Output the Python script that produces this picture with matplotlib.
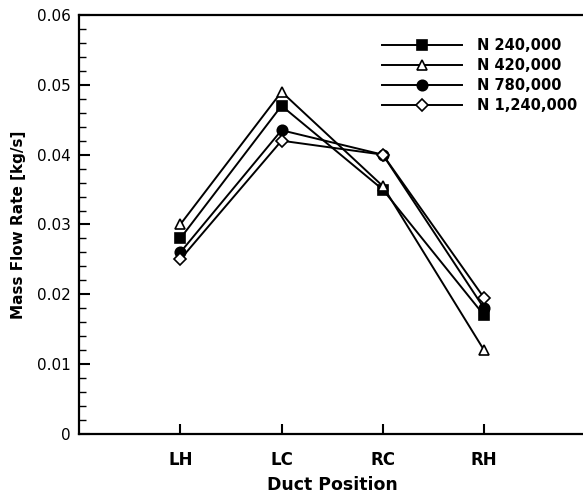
import matplotlib
matplotlib.use("Agg")
import matplotlib.pyplot as plt
from matplotlib.ticker import MultipleLocator, FixedLocator

plt.rcParams['font.family'] = ['DejaVu Sans']

positions = ["LH", "LC", "RC", "RH"]
series_labels = ["N 240,000", "N 420,000", "N 780,000", "N 1,240,000"]
flow_240k = [0.028, 0.047, 0.035, 0.017]
flow_420k = [0.030, 0.049, 0.0355, 0.012]
flow_780k = [0.026, 0.0435, 0.040, 0.018]
flow_1240k = [0.025, 0.042, 0.040, 0.0195]
y_ticks = [0.0, 0.01, 0.02, 0.03, 0.04, 0.05, 0.06]
y_tick_labels = ["0", "0.01", "0.02", "0.03", "0.04", "0.05", "0.06"]

W, H = 583, 497
fig = plt.figure(figsize=(W / 100, H / 100), dpi=100)
left, bottom, top = 79 / W, (H - 434) / H, (H - 15) / H
ax = fig.add_axes([left, bottom, 1.004 - left, top - bottom])

x = list(range(1, len(positions) + 1))
styles = [
    (flow_240k, dict(marker='s', markerfacecolor='black', markersize=6.5)),
    (flow_420k, dict(marker='^', markerfacecolor='white', markersize=7.5)),
    (flow_780k, dict(marker='o', markerfacecolor='black', markersize=7.5)),
    (flow_1240k, dict(marker='D', markerfacecolor='white', markersize=6.5)),
]
for (vals, st), lab in zip(styles, series_labels):
    ax.plot(x, vals, color='black', linewidth=1.4, markeredgecolor='black',
            markeredgewidth=1.2, label=lab, **st)

ax.set_xlim(0, 5)
ax.set_ylim(0, 0.06)
ax.xaxis.set_major_locator(FixedLocator(x))
ax.set_xticklabels(positions, fontsize=12, fontweight='bold')
ax.yaxis.set_major_locator(FixedLocator(y_ticks))
ax.yaxis.set_minor_locator(MultipleLocator(0.002))
ax.set_yticklabels(y_tick_labels)
ax.tick_params(axis='y', which='major', direction='in', length=8, width=1.5,
               labelsize=11, pad=6)
ax.tick_params(axis='y', which='minor', direction='in', length=5, width=1.0)
ax.tick_params(axis='x', which='major', direction='in', length=7, width=1.5,
               pad=12)
for sp in ax.spines.values():
    sp.set_linewidth(1.6)

ax.set_xlabel("Duct Position", fontsize=12.5, fontweight='bold', labelpad=5)
ax.set_ylabel("Mass Flow Rate [kg/s]", fontsize=11, fontweight='bold', labelpad=8)

leg = fig.legend(*ax.get_legend_handles_labels(), loc='upper right',
                 bbox_to_anchor=(577 / W, (H - 38) / H), frameon=False,
                 borderpad=0, borderaxespad=0,
                 handlelength=5.5, handletextpad=1.0, labelspacing=0.34,
                 prop={'size': 10.5, 'weight': 'bold'})

fig.savefig("out.png", dpi=100)
